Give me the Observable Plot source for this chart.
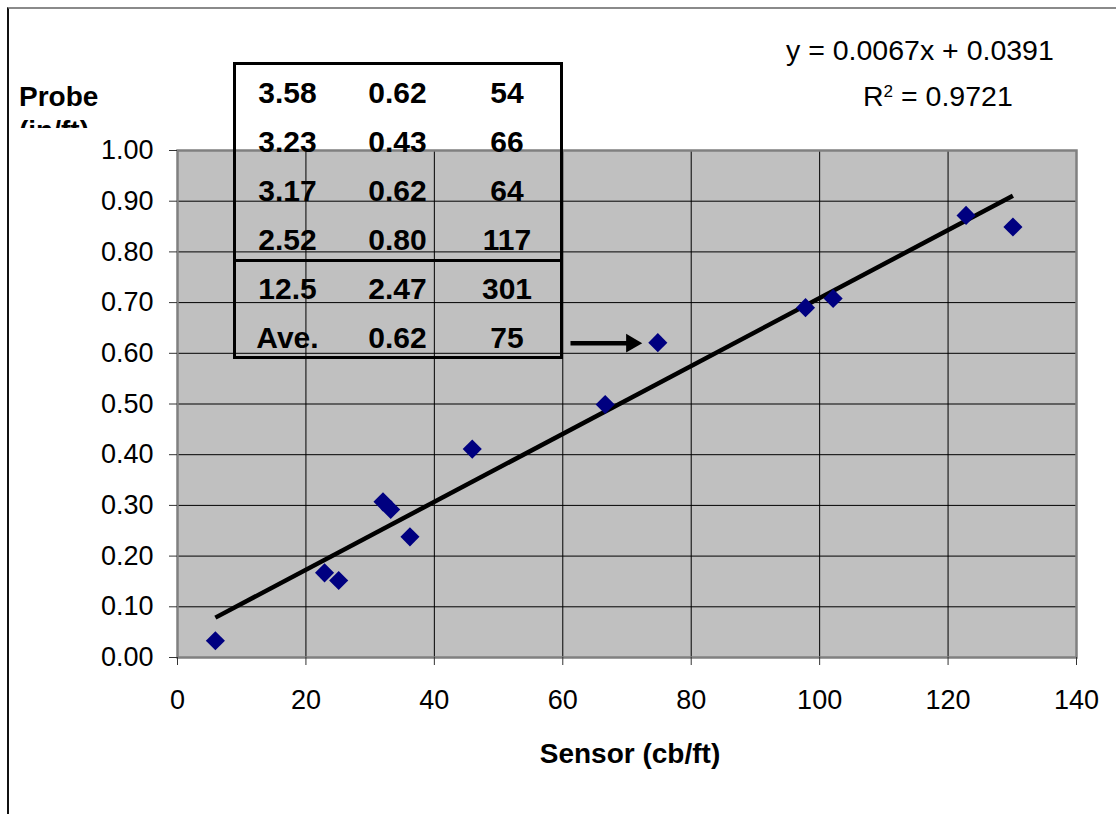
<!DOCTYPE html>
<html>
<head>
<meta charset="utf-8">
<script src="https://cdn.jsdelivr.net/npm/d3@7"></script>
<script src="https://cdn.jsdelivr.net/npm/@observablehq/plot@0.6"></script>
<style>
  html, body { margin: 0; padding: 0; background: #fff; overflow: hidden; }
  #wrap { position: relative; width: 1116px; height: 814px; overflow: hidden; background: #fff;
          font-family: "Liberation Sans", Arial, sans-serif; color: #000; }
  #outer { position: absolute; left: 7px; top: 7px; width: 1200px; height: 900px;
           border-left: 2px solid #111; border-top: 2px solid #8a8a8a; }
  #chart { position: absolute; left: 0; top: 0; }
  .abs { position: absolute; white-space: nowrap; }
  #ylab { position: absolute; left: 19px; top: 80px; height: 48px; overflow: hidden;
          font-weight: bold; font-size: 28px; line-height: 34px; }
  #table { position: absolute; left: 233px; top: 62px; width: 330px; height: 297px;
           box-sizing: border-box; border: 3px solid #000; }
  #sep { position: absolute; left: 233px; top: 259px; width: 330px; height: 3px; background: #000; }
  .cell { position: absolute; width: 100px; text-align: center; font-weight: bold;
          font-size: 30px; line-height: 30px; }
  .eq { position: absolute; font-size: 28.5px; line-height: 28.5px; white-space: nowrap; }
  .eq sup { font-size: 60%; vertical-align: 0.55em; line-height: 0; }
  #xlab { position: absolute; left: 430px; width: 400px; text-align: center; font-weight: bold;
          font-size: 28px; line-height: 28px; }
</style>
</head>
<body>
<div id="wrap">
  <div id="outer"></div>
  <div id="chart"></div>
</div>
<script>
// ---- data ----
const sensor = [5.9, 22.9, 25.1, 32.0, 33.2, 36.2, 45.9, 66.6, 74.8, 97.8, 102.1, 122.8, 130.1];
const probe  = [0.033, 0.167, 0.152, 0.307, 0.292, 0.238, 0.411, 0.499, 0.621, 0.690, 0.708, 0.872, 0.849];
const trendSlope = 0.0067;
const trendIntercept = 0.0391;
const xTicks = [0, 20, 40, 60, 80, 100, 120, 140];
const yTicks = [0, 0.1, 0.2, 0.3, 0.4, 0.5, 0.6, 0.7, 0.8, 0.9, 1.0];
const tableCol1 = ["3.58", "3.23", "3.17", "2.52", "12.5", "Ave."];
const tableCol2 = ["0.62", "0.43", "0.62", "0.80", "2.47", "0.62"];
const tableCol3 = ["54", "66", "64", "117", "301", "75"];
const equationText = "y = 0.0067x + 0.0391";
const r2Text = "0.9721";
const yTitle = ["Probe", "(in/ft)"];
const xTitle = "Sensor (cb/ft)";
// arrow annotation (points at the "Ave." point)
const arrowY = [0.62];
const arrowFrom = [61.2];
const arrowTo = [70.7];

// ---- derived tables ----
const points = sensor.map((s, i) => ({x: s, y: probe[i]}));
const xr = d3.extent(sensor);
const trend = xr.map(x => ({x, y: trendSlope * x + trendIntercept}));
const arrows = arrowY.map((y, i) => ({x1: arrowFrom[i], x2: arrowTo[i], y}));

const chart = Plot.plot({
  width: 1116,
  height: 814,
  marginLeft: 177,
  marginRight: 40,
  marginTop: 150,
  marginBottom: 157,
  style: {background: "transparent", fontFamily: "'Liberation Sans', Arial, sans-serif", fontSize: "27px", color: "#000"},
  x: {domain: [0, 140]},
  y: {domain: [0, 1]},
  marks: [
    Plot.frame({fill: "#c0c0c0"}),
    Plot.gridX(xTicks, {stroke: "#000", strokeOpacity: 1, strokeWidth: 1}),
    Plot.gridY(yTicks, {stroke: "#000", strokeOpacity: 1, strokeWidth: 1}),
    Plot.frame({stroke: "#808080", strokeWidth: 2.5}),
    Plot.axisX(xTicks, {tickSize: 8, tickPadding: 24, label: null, stroke: "#333", fontSize: 27, tickFormat: d3.format("d")}),
    Plot.axisY(yTicks, {tickSize: 8, tickPadding: 16, label: null, stroke: "#333", fontSize: 27, tickFormat: d3.format(".2f")}),
    Plot.line(trend, {x: "x", y: "y", stroke: "#000", strokeWidth: 4.5, strokeLinecap: "butt"}),
    Plot.dot(points, {x: "x", y: "y", symbol: "diamond2", r: 8.6, fill: "#000080", stroke: "none"}),
    Plot.link(arrows, {x1: "x1", x2: "x2", y1: "y", y2: "y", stroke: "#000", strokeWidth: 4.5}),
    Plot.dot(arrows, {x: "x2", y: "y", symbol: "triangle", r: 6.9, rotate: 90, fill: "#000", stroke: "none"})
  ]
});
document.getElementById("chart").appendChild(chart);

// ---- overlays (text) ----
const wrap = document.getElementById("wrap");
function add(html, cls, css) {
  const d = document.createElement("div");
  d.className = cls;
  d.innerHTML = html;
  Object.assign(d.style, css);
  wrap.appendChild(d);
  return d;
}
// y title (clipped second line like the original)
add(yTitle.join("<br>"), "", {}).id = "ylab";
// table
add("", "", {}).id = "table";
add("", "", {}).id = "sep";
const colCenters = [287.5, 397.5, 507];
const cols = [tableCol1, tableCol2, tableCol3];
cols.forEach((col, j) => col.forEach((t, i) => {
  const cy = 92.5 + 49.1 * i;
  add(t, "cell", {left: (colCenters[j] - 50) + "px", top: (cy - 0.4885 * 30) + "px"});
}));
// equation
add(equationText, "eq", {left: "786px", top: (50 - 0.4885 * 28.5) + "px"});
add("R<sup>2</sup> = " + r2Text, "eq", {left: "863px", top: (96 - 0.4885 * 28.5) + "px"});
// x title
add(xTitle, "", {}).id = "xlab";
document.getElementById("xlab").style.top = (754 - 0.4885 * 28) + "px";
</script>
</body>
</html>
